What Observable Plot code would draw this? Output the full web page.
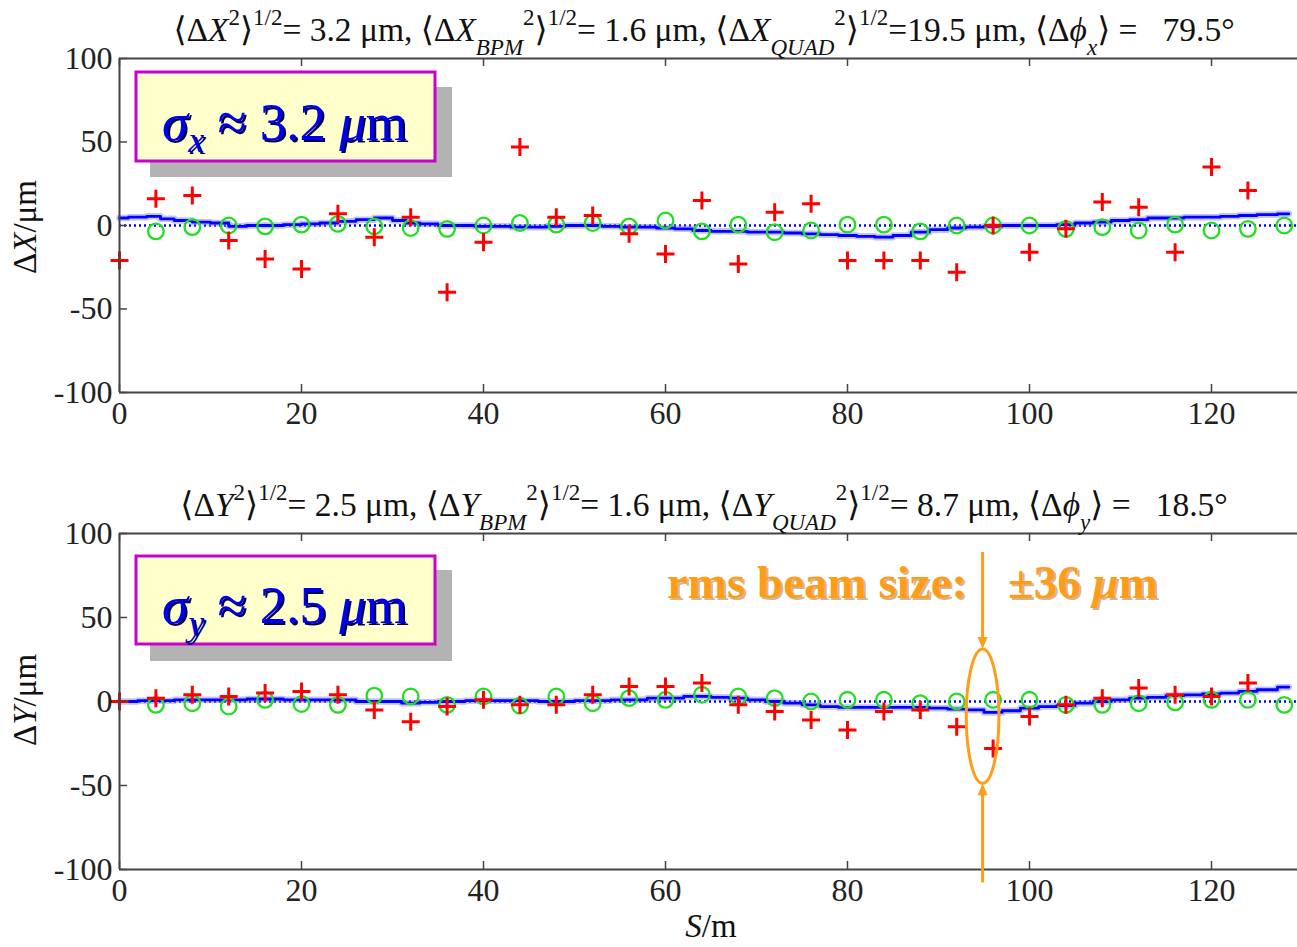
<!DOCTYPE html>
<html><head><meta charset="utf-8">
<script src="https://cdn.jsdelivr.net/npm/d3@7"></script>
<script src="https://cdn.jsdelivr.net/npm/@observablehq/plot@0.6"></script>
<style>
html,body{margin:0;padding:0;background:#fff;}
#chart{width:1297px;height:947px;overflow:hidden;background:#fff;}
#chart svg{display:block;}
</style></head><body><div id="chart"></div>
<script>
// ---------- data ----------
const sBPM = [0,4,8,12,16,20,24,28,32,36,40,44,48,52,56,60,64,68,72,76,80,84,88,92,96,100,104,108,112,116,120,124];
const sQuad = [4,8,12,16,20,24,28,32,36,40,44,48,52,56,60,64,68,72,76,80,84,88,92,96,100,104,108,112,116,120,124,128];

const redX = [-21,16,18,-9,-20,-26,7,-7,5,-40,-10,47,5,6,-5,-17,15,-23,8,13,-21,-21,-21,-28,0,-16,-2,14,11,-16,35,21];
const greenX = [-3.5,-1,0,-0.5,0.5,1,-0.5,-1.5,-2,0,1.5,0.5,1.5,-0.5,3,-3.5,0.5,-4,-3,0.5,0.5,-3.5,0,0,0,-2,-1,-3,0.5,-3,-2,0];
const blueXs = [0,2,4,5,7,9,11,13,15,17,19,21,23,25,27,29,31,32,34,36,38,40,42,44,46,48,50,52,54,56,58,60,62,64,66,68,70,72,74,76,78,80,82,84,86,88,90,92,94,96,98,100,102,104,106,108,110,112,114,116,118,120,122,124,126,128.5];
const blueXv = [4.5,5,5.5,4,3,2,1.5,-0.5,0,0,0.5,1,1.5,2.5,3.5,4.5,3,1.5,1,0,0,-0.5,-0.5,-1,-1,-0.5,0,0,-0.5,-1,-1,-1.5,-2,-3,-3.5,-3.5,-4,-4,-4.5,-5,-5.5,-6,-6.5,-7,-6,-4,-2.5,-1.5,-1,-0.5,0,0,0,0.5,1.5,2,3,3.5,4.5,4.5,5,5,5.5,6,6.5,7];

const redY = [0,2,4,3,5,6,4,-5,-12,-3,1,-2,-2,4,9,9,11,-2,-6,-11,-17,-6,-5,-15,-28,-9,-2,2,8,4,3,11];
const greenY = [-2,-1,-3,1,-1.5,-2,3.5,3,-2,3,-2.5,3,-1,2,1,4,3,2,0,1,1,-1,0,1,1,-2,-2,-1,-0.5,1,1,-2];
const blueYs = [0,4,8,12,16,20,24,28,30,32,34,36,40,44,48,52,56,60,64,66,68,70,72,74,76,78,80,84,88,90,92,94,96,98,100,102,104,106,108,110,112,114,116,118,120,122,124,126,128.5];
const blueYv = [0,0.5,1,1,1.5,1,1,0,0,-1,-0.5,0,0.5,0.5,0,0.5,1,2,3,2.5,2,1,0,-1,-2,-3,-3.5,-3.5,-3.5,-4,-4.5,-5,-6.5,-5.5,-4,-3,-2.5,-1,0,1,2,2.5,3.5,4,4.5,5,6,7,8.5];

const xTicks = [0,20,40,60,80,100,120];
const yTicks = [-100,-50,0,50,100];

const statsX = ["3.2","1.6","19.5","79.5"];
const statsY = ["2.5","1.6","8.7","18.5"];
const sigmaX = "3.2";
const sigmaY = "2.5";

// beam-size annotation (bottom panel)
const beamS = 94.9, beamCenter = -9, beamHalf = 40, beamHalfS = 1.8;
const beamArrowTop = 88.7, beamArrowBottom = -108;
const beamText = ["rms beam size:", "±36 "];

// ---------- helpers ----------
const FONT = "Liberation Serif, Times New Roman, DejaVu Serif, serif";
const SVGNS = "http://www.w3.org/2000/svg";
function el(name, attrs, parent) {
  const e = document.createElementNS(SVGNS, name);
  for (const k in attrs) e.setAttribute(k, attrs[k]);
  if (parent) parent.appendChild(e);
  return e;
}
function richText(parent, x, y, segs, o) {
  const t = el("text", {x, y, "text-anchor": o.anchor || "start", "font-size": o.size, fill: o.fill || "#111"}, parent);
  t.style.fontFamily = FONT;
  if (o.weight) t.setAttribute("font-weight", o.weight);
  if (o.transform) t.setAttribute("transform", o.transform);
  if (o.opacity) t.setAttribute("fill-opacity", o.opacity);
  t.style.whiteSpace = "pre";
  let cur = 0;
  for (const s of segs) {
    const ts = el("tspan", {}, t);
    const shift = s.dy || 0;
    ts.setAttribute("dy", shift - cur); cur = shift;
    if (s.i) ts.setAttribute("font-style", "italic");
    if (s.size) ts.setAttribute("font-size", s.size);
    ts.textContent = s.t;
  }
  return t;
}
function titleSegs(v, vals, sub) {
  const SUP = -16, SUB = 14, ss = 23;
  const q = vals[2].length < 4 ? "= " + vals[2] : "=" + vals[2];
  return [
    {t:"⟨Δ"},{t:v,i:1},{t:"2",dy:SUP,size:ss},{t:"⟩"},{t:"1/2",dy:SUP,size:ss},
    {t:"= "+vals[0]+" μm, ⟨Δ"},{t:v,i:1},{t:"BPM",i:1,dy:SUB,size:ss},{t:"2",dy:SUP,size:ss},{t:"⟩"},{t:"1/2",dy:SUP,size:ss},
    {t:"= "+vals[1]+" μm, ⟨Δ"},{t:v,i:1},{t:"QUAD",i:1,dy:SUB,size:ss},{t:"2",dy:SUP,size:ss},{t:"⟩"},{t:"1/2",dy:SUP,size:ss},
    {t:q+" μm, ⟨Δ"},{t:"ϕ",i:1},{t:sub,i:1,dy:SUB,size:ss},{t:"⟩ =   "+vals[3]+"°"}
  ];
}
const plusSymbol = {draw(ctx, size) {
  const r = Math.sqrt(size / Math.PI);
  ctx.moveTo(-r, 0); ctx.lineTo(r, 0); ctx.moveTo(0, -r); ctx.lineTo(0, r);
}};

function textMark(fn) {
  return () => { const g = el("g", {}); fn(g); return g; };
}
function sigmaBox(box, shadow, base, sub, val) {
  return textMark(g => {
    el("rect", {x: shadow[0], y: shadow[1], width: shadow[2], height: shadow[3], fill: "#b3b3b3"}, g);
    el("rect", {x: box[0], y: box[1], width: box[2], height: box[3], fill: "#ffffcc", stroke: "#cc00cc", "stroke-width": 3}, g);
    const segs = [{t:"σ",i:1},{t:sub,i:1,dy:12,size:36},{t:" ≈ "+val+" "},{t:"μ",i:1},{t:"m"}];
    richText(g, base[0] + 2, base[1] + 2, segs, {size: 53, fill: "#000050"});
    richText(g, base[0], base[1], segs, {size: 53, fill: "#0000ee"});
  });
}

function panel(o) {
  const H = o.height - o.marginTop - o.marginBottom;
  const W = 1297 - 119;
  const red = sBPM.map((s, i) => ({s, v: o.red[i]}));
  const green = sQuad.map((s, i) => ({s, v: o.green[i]}));
  const blue = o.blueS.map((s, i) => ({s, v: o.blueV[i]}));
  return Plot.plot({
    width: 1297, height: o.height,
    marginLeft: 119, marginRight: 0, marginTop: o.marginTop, marginBottom: o.marginBottom,
    x: {domain: [0, 129.45]},
    y: {domain: [-100, 100]},
    style: {fontFamily: FONT, background: "#fff", color: "#222"},
    marks: [
      Plot.ruleY([0], {stroke: "#0000ff", strokeWidth: 2.6, strokeDasharray: "2,3"}),
      Plot.line(blue, {x: "s", y: "v", stroke: "#7a7aff", strokeOpacity: 0.45, strokeWidth: 6.5, curve: "step"}),
      Plot.line(blue, {x: "s", y: "v", stroke: "#0000ff", strokeWidth: 2.8, curve: "step"}),
      Plot.dot(green, {x: "s", y: "v", r: 7.8, stroke: "#22dd22", strokeWidth: 2.3, fill: "none"}),
      Plot.dot(red, {x: "s", y: "v", r: 9, symbol: plusSymbol, stroke: "#ff0000", strokeWidth: 3, fill: "none"}),
      Plot.ruleX([0], {stroke: "#444", strokeWidth: 2}),
      Plot.ruleY([-100, 100], {stroke: "#444", strokeWidth: 2}),
      Plot.tickX(xTicks, {x: d => d, insetTop: H - 8, stroke: "#444", strokeWidth: 1.5}),
      Plot.tickX(xTicks, {x: d => d, insetBottom: H - 8, stroke: "#444", strokeWidth: 1.5}),
      Plot.tickY(yTicks, {y: d => d, insetRight: W - 8, stroke: "#444", strokeWidth: 1.5}),
      Plot.axisX(xTicks, {tickSize: 0, tickPadding: 9, fontSize: 32, tickFormat: d => String(d), label: null, fill: "#222"}),
      Plot.axisY(yTicks, {tickSize: 0, tickPadding: 7, fontSize: 32, tickFormat: d => String(d), label: null, fill: "#222"}),
      textMark(g => {
        richText(g, 704, o.titleY, titleSegs(o.v, o.stats, o.sub), {size: 33.5, anchor: "middle", fill: "#111"});
        richText(g, 0, 0, [{t:"Δ"},{t:o.v,i:1},{t:"/μm"}], {size: 33, anchor: "middle", fill: "#111",
          transform: `translate(36,${o.ylabelY}) rotate(-90)`});
      }),
      sigmaBox(o.box, o.shadow, o.base, o.sub, o.sigma),
      ...(o.extras || [])
    ]
  });
}

const chart = document.getElementById("chart");

chart.appendChild(panel({
  height: 440, marginTop: 58, marginBottom: 48,
  red: redX, green: greenX, blueS: blueXs, blueV: blueXv,
  v: "X", sub: "x", stats: statsX, sigma: sigmaX, titleY: 41, ylabelY: 227,
  box: [136, 72, 299, 89], shadow: [150, 87, 302, 90], base: [162, 140]
}));

const orange = "#ff9c1a";
chart.appendChild(panel({
  height: 507, marginTop: 93, marginBottom: 78,
  red: redY, green: greenY, blueS: blueYs, blueV: blueYv,
  v: "Y", sub: "y", stats: statsY, sigma: sigmaY, titleY: 76, ylabelY: 260,
  box: [136, 116, 299, 88], shadow: [150, 130, 302, 91], base: [162, 183],
  extras: [
    (index, {x, y}) => {
      const g = el("g", {});
      const cx = x(beamS), cy = y(beamCenter);
      const rx = x(beamS + beamHalfS) - cx, ry = y(beamCenter - beamHalf) - cy;
      const top = cy - ry, bot = cy + ry;
      el("ellipse", {cx, cy, rx, ry, fill: "none", stroke: orange, "stroke-width": 3}, g);
      el("line", {x1: cx, x2: cx, y1: y(beamArrowTop), y2: top - 10, stroke: orange, "stroke-width": 3}, g);
      el("path", {d: `M${cx},${top}L${cx - 5},${top - 12}L${cx + 5},${top - 12}Z`, fill: orange}, g);
      el("line", {x1: cx, x2: cx, y1: y(beamArrowBottom), y2: bot + 10, stroke: orange, "stroke-width": 3}, g);
      el("path", {d: `M${cx},${bot}L${cx - 5},${bot + 12}L${cx + 5},${bot + 12}Z`, fill: orange}, g);
      const t1 = [{t: beamText[0]}];
      const t2 = [{t: beamText[1]}, {t: "μ", i: 1}, {t: "m"}];
      richText(g, 669, 160, t1, {size: 47, weight: "bold", fill: "#9a5a00", opacity: 0.45});
      richText(g, 667, 158, t1, {size: 47, weight: "bold", fill: orange});
      richText(g, 1010, 160, t2, {size: 47, weight: "bold", fill: "#9a5a00", opacity: 0.45});
      richText(g, 1008, 158, t2, {size: 47, weight: "bold", fill: orange});
      richText(g, 711, 497, [{t:"S",i:1},{t:"/m"}], {size: 33, anchor: "middle", fill: "#111"});
      return g;
    }
  ]
}));
</script></body></html>
